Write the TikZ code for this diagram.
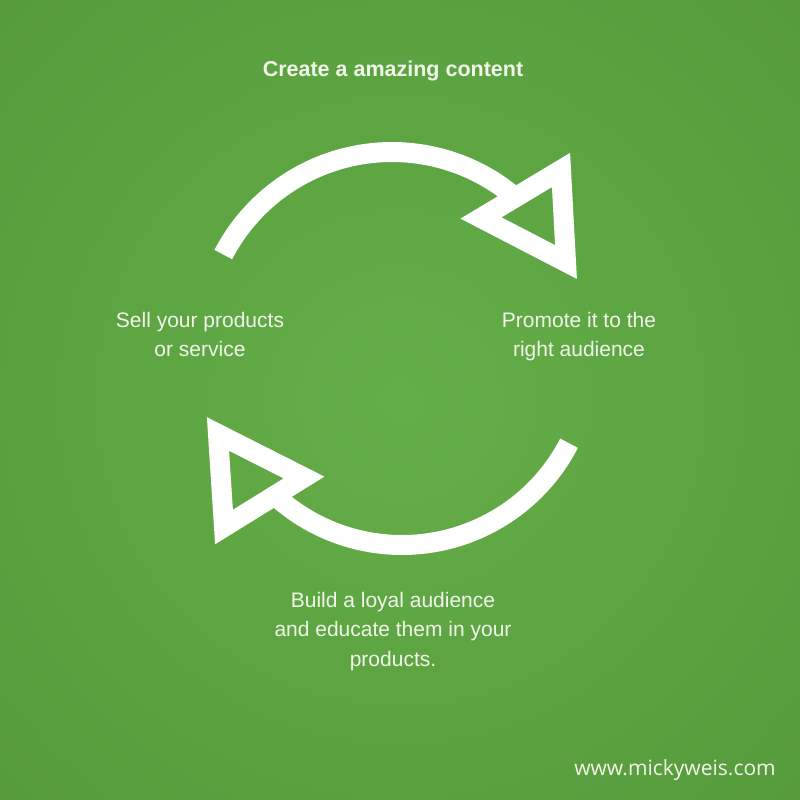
\documentclass[tikz,border=0pt]{standalone}
\usepackage{fontspec}
\setmainfont{Liberation Sans}
\newfontfamily\urlfont{Open Sans}
\definecolor{cin}{HTML}{64AE48}
\definecolor{cedge}{HTML}{519337}
\definecolor{ccorner}{HTML}{4B8534}
\definecolor{txt}{HTML}{F1F6EA}
\pgfdeclareradialshading{bgshade}{\pgfpoint{0bp}{0bp}}{color(0bp)=(cin); color(50bp)=(cedge); color(71bp)=(ccorner); color(100bp)=(ccorner)}
\tikzset{
  band/.style={draw=white, line width=20pt},
  tri/.style={draw=white, line width=20pt, line join=miter},
  lbl/.style={text=txt, align=center, inner sep=0pt, anchor=base, font=\fontsize{21}{29.5}\selectfont}
}
\begin{document}
\begin{tikzpicture}[x=1pt,y=-1pt]
\useasboundingbox (0,0) rectangle (800,800);
\shade[shading=bgshade] (0,0) rectangle (800,800);
% top arrow
\draw[band] (392,342) ++(207.4:190) arc[start angle=207.4, end angle=310, radius=190];
\draw[tri] (561,170) -- (566,262) -- (481,218) -- cycle;
% bottom arrow
\draw[band] (402,357) ++(27.3:188) arc[start angle=27.3, end angle=133, radius=188];
\draw[tri] (218,434) -- (224,527) -- (304,477.5) -- cycle;
% texts (base anchor = baseline of last line)
\node[lbl, font=\fontsize{21.5}{26}\selectfont\bfseries] (title) at (393,77) {Create a amazing content};
\node[lbl] (sell) at (200,356.5) {Sell your products\\or service};
\node[lbl] (promote) at (579,356.5) {Promote it to the\\right audience};
\node[lbl] (build) at (393,666) {Build a loyal audience\\and educate them in your\\products.};
\node[lbl, font=\fontsize{21}{26}\urlfont] (url) at (675,775) {www.mickyweis.com};
\end{tikzpicture}
\end{document}
